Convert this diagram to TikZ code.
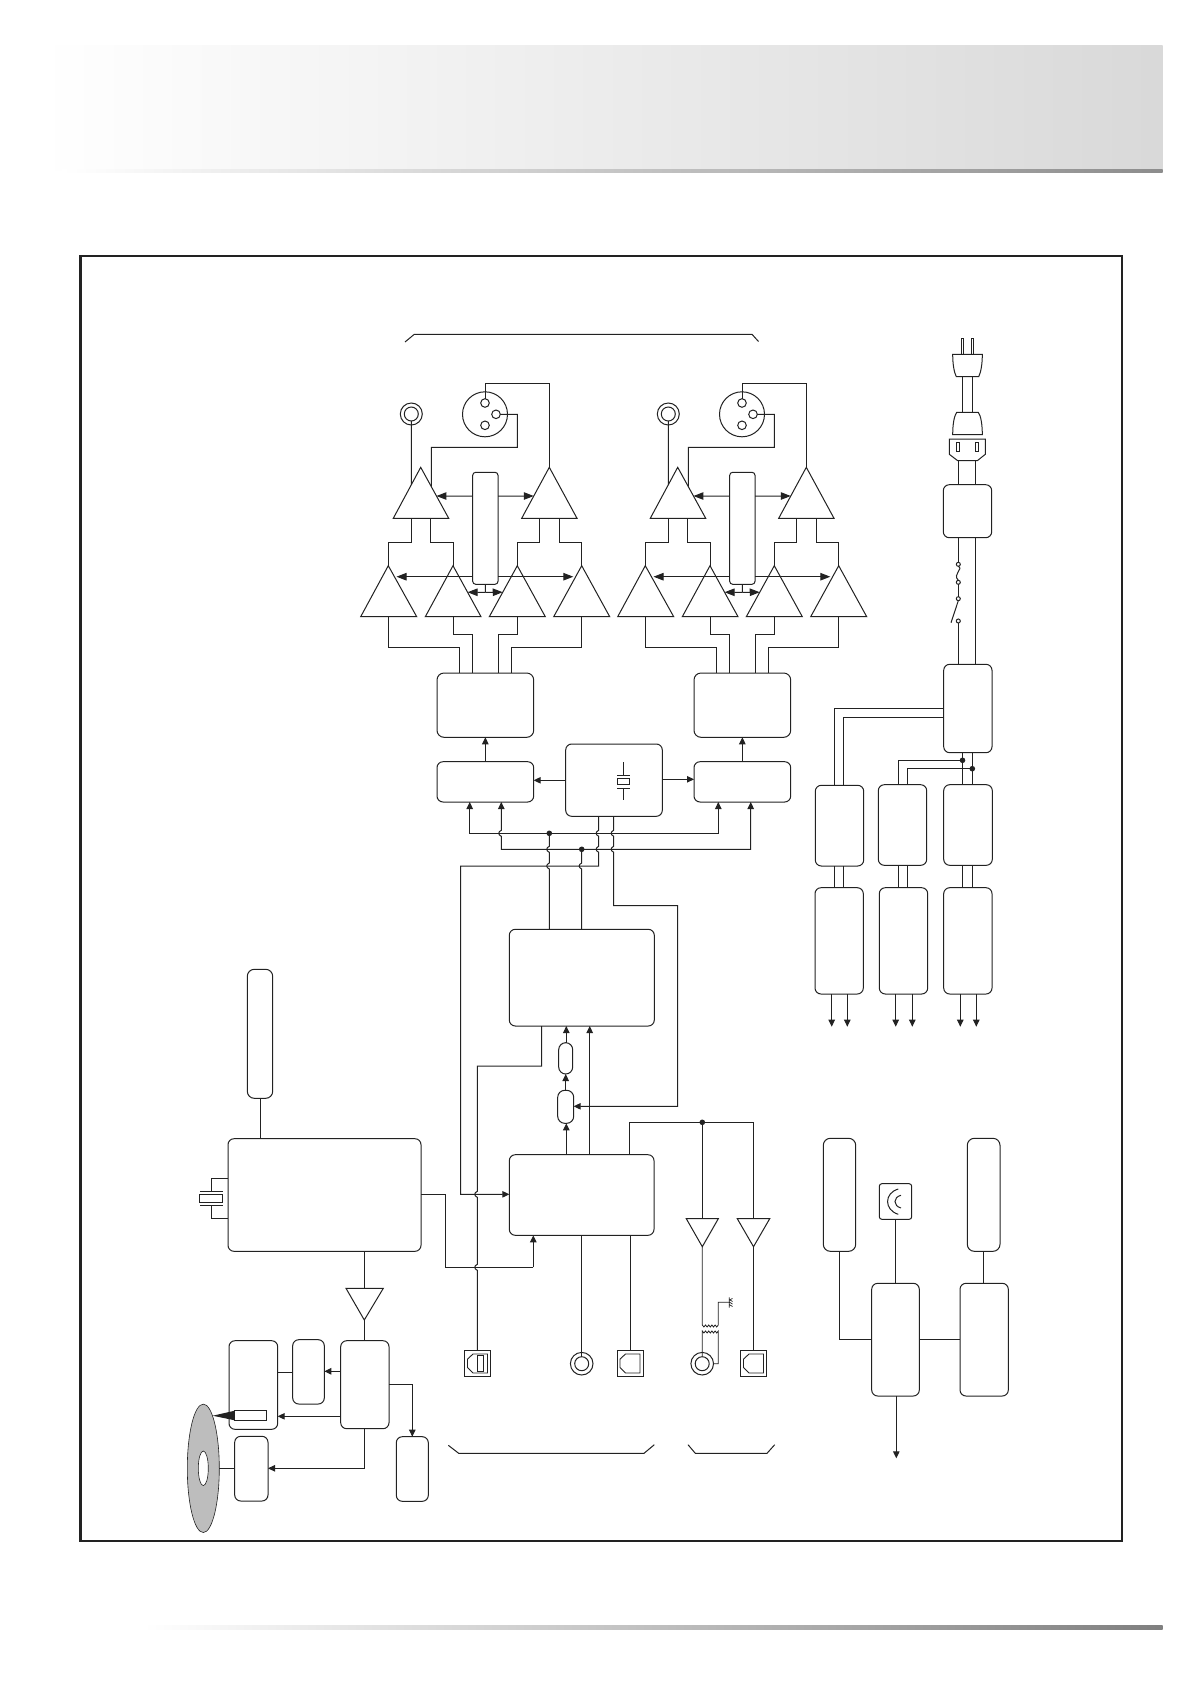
\documentclass[tikz,border=0pt]{standalone}
\usepackage{xcolor}
\usetikzlibrary{arrows.meta,calc,shapes.geometric}
\definecolor{ink}{HTML}{222222}
\definecolor{discgrey}{HTML}{BDBDBD}
\tikzset{
  wire/.style={draw=ink,line width=1pt,line join=miter},
  box/.style={draw=ink,line width=1pt,inner sep=0pt,outer sep=0pt},
  ring/.style={circle,draw=ink,line width=1pt,inner sep=0pt,outer sep=0pt},
  ellip/.style={ellipse,draw=ink,line width=.6pt,inner sep=0pt,outer sep=0pt},
  dotj/.style={circle,fill=ink,inner sep=0pt,outer sep=0pt,minimum size=5.6pt},
  sqconn/.style={draw=ink,line width=1pt,inner sep=0pt,outer sep=0pt,minimum width=26pt,minimum height=26pt},
  bigtip/.style={-{Triangle[length=10pt,width=7.5pt]}},
  >={Triangle[length=7pt,width=6.5pt]}
}
% rounded box: [radius]{name}{x0}{y0}{x1}{y1}
\newcommand\myrbox[6][5]{\node[box,rounded corners=#1pt,minimum width={(#5-#3)*1pt},minimum height={(#6-#4)*1pt}] (#2) at ({(#3+#5)/2},{(#4+#6)/2}) {};}
% triangle: {name}{apex x}{apex y}{left x}{right x}{base y}
\newcommand\mytri[6]{\coordinate (#1-a) at (#2,#3);\coordinate (#1-l) at (#4,#6);\coordinate (#1-r) at (#5,#6);\draw[wire] (#1-a)--(#1-l)--(#1-r)--cycle;}
\newcommand\hopdn[2]{ -- (#1,#2-3) .. controls (#1-3.4,#2-1.5) and (#1-3.4,#2+1.5) .. (#1,#2+3)}
\newcommand\wavy{.. controls +(0.6,2.6) and +(-0.6,2.6) .. ++(3.2,0) .. controls +(0.6,2.6) and +(-0.6,2.6) .. ++(3.2,0) .. controls +(0.6,2.6) and +(-0.6,2.6) .. ++(3.2,0) .. controls +(0.6,2.6) and +(-0.6,2.6) .. ++(3.2,0) .. controls +(0.6,2.6) and +(-0.6,2.6) .. ++(3.2,0)}
% connector square with keyed insert
\newcommand\conn[3]{\node[sqconn] (#1) at (#2,#3) {};
  \draw[wire,line width=.9pt] (#2-4.5,#3-9.3) -- (#2+10,#3-9.3) -- (#2+10,#3+9.7) -- (#2-4.5,#3+9.7) -- (#2-10,#3+4.2) -- (#2-10,#3-4.2) -- cycle;}
% one output channel
\newcommand\ampblock{%
  \node[ring,minimum size=22pt] (jo) at (411.3,414) {};
  \node[ring,minimum size=14pt] (ji) at (411.3,414) {};
  \node[ring,minimum size=45pt] (xlr) at (485,414.3) {};
  \node[ring,minimum size=8.6pt] (pa) at (485,403) {};
  \node[ring,minimum size=8.6pt] (pb) at (496,414.3) {};
  \node[ring,minimum size=8.6pt] (pc) at (485,425.3) {};
  \mytri{t1}{420.7}{467.3}{393.3}{448.7}{518.3}
  \mytri{t2}{549.3}{467.3}{521.7}{577}{518.3}
  \mytri{t3}{388.3}{565.7}{360.7}{416.7}{616.7}
  \mytri{t4}{453}{565.7}{425.3}{481}{616.7}
  \mytri{t5}{517.3}{565.7}{489.3}{545.3}{616.7}
  \mytri{t6}{581.7}{565.7}{553.7}{609.7}{616.7}
  \myrbox[3]{cb}{472.7}{472.3}{498}{584.3}
  \myrbox[7]{ibox}{437}{673}{533.7}{737.3}
  \myrbox[6]{ibot}{437}{761.7}{533.7}{802}
  \coordinate (t3in) at (396.5,576.7);
  \coordinate (t6in) at (573.3,576.7);
  \draw[wire] (ji.south) -- ($(t1-a)!.343!(t1-l)$);
  \draw[wire] (pa.north) -- (485,383.3) -- (549.3,383.3) -- (t2-a);
  \draw[wire] (pb.east) -- (517.3,414.3) -- (517.3,447.3) -- (431.3,447.3) -- ($(t1-a)!.379!(t1-r)$);
  \draw[wire,bigtip] (cb.west |- 0,496) -- ($(t1-a)!.563!(t1-r)$);
  \draw[wire,bigtip] (cb.east |- 0,496) -- ($(t2-a)!.563!(t2-l)$);
  \draw[wire,bigtip] (cb.west |- t3in) -- (t3in);
  \draw[wire,bigtip] (cb.east |- t6in) -- (t6in);
  \draw[wire] (cb.south) -- (485.3,592.3);
  \draw[wire,bigtip] (485.3,592.3) -- ($(t4-a)!.52!(t4-r)$);
  \draw[wire,bigtip] (485.3,592.3) -- ($(t5-a)!.52!(t5-l)$);
  \draw[wire] (411.3,0 |- t1-l) -- (411.3,542.3) -- (388.3,542.3) -- (t3-a);
  \draw[wire] (430.3,0 |- t1-l) -- (430.3,542.3) -- (453,542.3) -- (t4-a);
  \draw[wire] (539.7,0 |- t2-l) -- (539.7,542.3) -- (517.3,542.3) -- (t5-a);
  \draw[wire] (559.7,0 |- t2-l) -- (559.7,542.3) -- (581.7,542.3) -- (t6-a);
  \draw[wire] (388.3,0 |- t3-l) -- (388.3,647.3) -- (459.7,647.3) -- (459.7,0 |- ibox.north);
  \draw[wire] (453,0 |- t4-l) -- (453,634.3) -- (472.3,634.3) -- (472.3,0 |- ibox.north);
  \draw[wire] (517.3,0 |- t5-l) -- (517.3,634.3) -- (498.3,634.3) -- (498.3,0 |- ibox.north);
  \draw[wire] (581.7,0 |- t6-l) -- (581.7,647.3) -- (511.3,647.3) -- (511.3,0 |- ibox.north);
  \draw[wire,->] (ibot.north) -- (ibox.south);
}
\begin{document}
\begin{tikzpicture}[x=1pt,y=-1pt]
\useasboundingbox (0,0) rectangle (1191,1684);
\fill[white] (0,0) rectangle (1191,1684);
% header and footer bands
\shade[left color=white,right color=black!15] (40,45) rectangle (1162.6,170);
\shade[left color=white,right color=black!45] (62,169.3) rectangle (1162.6,172.7);
\shade[left color=white,middle color=black!33,right color=black!50] (144,1625) rectangle (1162.6,1629);
% frame
\draw[ink,line width=2.2pt] (80.5,256) rectangle (1122,1540.7);
% top bracket
\draw[wire] (405,342) -- (414.3,334.3) -- (752,334.3) -- (758.5,341.5);
% output channels
\begin{scope}[name prefix=l-]\ampblock\end{scope}
\begin{scope}[name prefix=r-,xshift=257pt]\ampblock\end{scope}
% clock
\myrbox[6]{clk}{565.7}{744}{662.3}{816.3}
\draw[wire] (623.3,762) -- (623.3,775) (617,775) -- (629.7,775) (617,788) -- (629.7,788) (623.3,788) -- (623.3,799.7);
\draw[wire] (617.3,778.7) rectangle (629.7,784.7);
\draw[wire,->] (clk.west |- 0,780.3) -- (l-ibot.east |- 0,780.3);
\draw[wire,->] (clk.east |- 0,779.3) -- (r-ibot.west |- 0,779.3);
% DSP and mux
\myrbox[6]{dsp}{509.3}{929.3}{654.3}{1026}
\myrbox[6]{mux}{509.3}{1154.7}{654}{1235.3}
\myrbox[7]{sba}{558.7}{1042.7}{572.7}{1074}
\myrbox[7]{sbb}{557.7}{1090.3}{573.7}{1123.3}
\node[dotj] (d1) at (549.3,833.3) {};
\node[dotj] (d2) at (581.7,849.3) {};
\node[dotj] (d3) at (702.3,1122.3) {};
% buses
\draw[wire,<->] (469.7,0 |- l-ibot.south) -- (469.7,833.3) -- (718.3,833.3) -- (718.3,0 |- r-ibot.south);
\draw[wire,<->] (501.3,0 |- l-ibot.south) \hopdn{501.3}{833.3} -- (501.3,849.3) -- (750.7,849.3) -- (750.7,0 |- r-ibot.south);
\draw[wire] (d1.center) \hopdn{549.3}{849.3} \hopdn{549.3}{866} -- (549.3,0 |- dsp.north);
\draw[wire] (d2.center) \hopdn{581.7}{866} -- (581.7,0 |- dsp.north);
\draw[wire,->] (598.7,0 |- clk.south) \hopdn{598.7}{833.3} \hopdn{598.7}{849.3} -- (598.7,866) -- (460.7,866) -- (460.7,1194.3) -- (mux.west |- 0,1194.3);
\draw[wire,->] (613.7,0 |- clk.south) \hopdn{613.7}{833.3} \hopdn{613.7}{849.3} -- (613.7,905.7) -- (677.7,905.7) -- (677.7,1106.3) -- (sbb.east |- 0,1106.3);
% mux region
\draw[wire,->] (566.3,0 |- mux.north) -- (566.3,0 |- sbb.south);
\draw[wire,->] (565.7,0 |- sbb.north) -- (565.7,0 |- sba.south);
\draw[wire,->] (566.3,0 |- sba.north) -- (566.3,0 |- dsp.south);
\draw[wire,->] (589.7,0 |- mux.north) -- (589.7,0 |- dsp.south);
% inputs and outputs
\conn{ca}{477.5}{1363.3}
\draw[wire] (477.3,1355.3) rectangle (483.7,1371.3);
\conn{cb}{630}{1363.3}
\conn{cc}{753.5}{1363.3}
\node[ring,minimum size=22.6pt] (jbo) at (581.7,1363.7) {};
\node[ring,minimum size=14pt] (jbi) at (581.7,1363.7) {};
\node[ring,minimum size=22.6pt] (jco) at (702.2,1363.7) {};
\node[ring,minimum size=14pt] (jci) at (702.2,1363.7) {};
\draw[wire] (541.7,0 |- dsp.south) -- (541.7,1066) -- (477.3,1066) \hopdn{477.3}{1194.3} \hopdn{477.3}{1267.3} -- (477.3,0 |- ca.north);
\draw[wire] (jbi.north |- mux.south) -- (jbi.north);
\draw[wire] (cb.north |- mux.south) -- (cb.north);
\mytri{t7}{702.3}{1246.7}{686.3}{718.3}{1218.7}
\mytri{t8}{753.5}{1246.7}{737.3}{769.7}{1218.7}
\draw[wire] (629.3,0 |- mux.north) -- (629.3,1122.3) -- (753.5,1122.3) -- (753.5,0 |- t8-l);
\draw[wire] (d3.center) -- (702.3,0 |- t7-l);
\draw[wire] (t8-a) -- (cc.north);
% transformer and ground
\draw[wire,line width=.8pt] (t7-a) -- (702.3,1325) \wavy -- (718.3,1302.3) -- (729.3,1302.3);
\draw[wire,line width=.8pt] (jci.north) -- (702.3,1331) \wavy -- (718.3,1363.7) -- (jco.east);
\draw[wire,line width=.7pt] (729.3,1297.3) -- (729.3,1307.7) (729.3,1299.5) -- (732.5,1301.5) (729.3,1302) -- (732.5,1304) (729.3,1304.5) -- (732.5,1306.5) (729.3,1300) -- (732.5,1298.5);
% main controller
\myrbox[6]{main}{228}{1138.7}{421}{1251.3}
\myrbox[7]{ant}{247.3}{969.3}{272.7}{1098.3}
\draw[wire] (260.3,0 |- ant.south) -- (260.3,0 |- main.north);
\draw[wire] (main.west |- 0,1178.3) -- (211.3,1178.3) -- (211.3,1191.3) (200,1191.3) -- (222.7,1191.3) (200,1205.3) -- (222.7,1205.3) (211.3,1205.3) -- (211.3,1218.3) -- (main.west |- 0,1218.3);
\draw[wire] (199.3,1194.3) rectangle (222.7,1202.3);
\draw[wire] (main.east |- 0,1194.3) -- (445.3,1194.3) -- (445.3,1267.3) -- (533.3,1267.3);
\draw[wire,->] (533.3,1267.3) -- (533.3,0 |- mux.south);
% servo group
\mytri{t9}{364.3}{1320}{346}{383.3}{1288.3}
\myrbox[6]{sa}{340.7}{1340.7}{389}{1428.7}
\myrbox[6]{sb}{292.7}{1339.7}{324.3}{1404}
\myrbox[6]{sc}{229}{1340.7}{277.7}{1429.3}
\myrbox[6]{sd}{234.7}{1436.3}{268}{1501}
\myrbox[6]{se}{396.3}{1436.7}{428.3}{1501.3}
\draw[wire] (364.3,0 |- main.south) -- (364.3,0 |- t9-l);
\draw[wire] (t9-a) -- (364.3,0 |- sa.north);
\draw[wire,->] (sa.west |- 0,1371.3) -- (sb.east |- 0,1371.3);
\draw[wire] (sc.east |- 0,1372.3) -- (sb.west |- 0,1372.3);
\draw[wire,->] (sa.west |- 0,1416.3) -- (sc.east |- 0,1416.3);
\draw[wire,->] (364.3,0 |- sa.south) -- (364.3,1468.3) -- (sd.east |- 0,1468.3);
\draw[wire,->] (sa.east |- 0,1384.3) -- (412.3,1384.3) -- (412.3,0 |- se.north);
% disc and laser
\node[ellip,fill=discgrey,minimum width=32pt,minimum height=128.4pt] (disc) at (203.3,1468.3) {};
\node[ellip,fill=white,minimum width=10pt,minimum height=34.6pt] (hole) at (203.3,1468.3) {};
\draw[wire] (disc.east |- 0,1468.3) -- (sd.west |- 0,1468.3);
\node[box,fill=white,minimum width=32.4pt,minimum height=10.4pt] (laser) at (250.5,1415.5) {};
\fill[ink] (212.7,1415.7) -- (234.7,1410.7) -- (234.7,1420.3) -- cycle;
% input brackets
\draw[wire] (448.3,1445.3) -- (458.7,1453.3) -- (644,1453.3) -- (654.3,1444.7);
\draw[wire] (688,1444.7) -- (695.3,1453.3) -- (767,1453.3) -- (774.7,1444.7);
% power plug and cord
\draw[wire] (961.3,354.3) -- (961.3,338.3) -- (963.7,338.3) -- (963.7,354.3) (971.3,354.3) -- (971.3,338.3) -- (973.7,338.3) -- (973.7,354.3);
\draw[wire] (952.7,354.3) -- (982.3,354.3) .. controls (982.3,364) and (981,372) .. (978.7,376.7) -- (956.3,376.7) .. controls (954,372) and (952.7,364) .. cycle;
\draw[wire] (962.7,376.7) -- (962.7,412.3) (972.7,376.7) -- (972.7,412.3);
\draw[wire] (952.7,434.7) -- (982.3,434.7) .. controls (982.3,425) and (981,416) .. (978.3,412.3) -- (956.7,412.3) .. controls (954,416) and (952.7,425) .. cycle;
\draw[wire] (949.3,439) -- (985.3,439) -- (985.3,454.3) -- (977.3,460.7) -- (957.7,460.7) -- (949.3,454.3) -- cycle;
\draw[wire] (956.7,442.3) rectangle (959.3,451.3) (975.3,442.3) rectangle (978.3,451.3);
\myrbox[6]{fa}{943.3}{484.7}{991.7}{537.7}
\myrbox[6]{ga}{943.7}{664.3}{992}{752.7}
\draw[wire] (958.3,460.7) -- (958.3,0 |- fa.north);
\draw[wire] (975.3,460.7) -- (975.3,0 |- fa.north);
\node[ring,minimum size=4pt] (fu) at (958.3,564.3) {};
\node[ring,minimum size=4pt] (fv) at (958.3,582.3) {};
\node[ring,minimum size=4pt] (sw) at (958.3,598.7) {};
\node[ring,minimum size=4pt] (sx) at (958.3,621) {};
\draw[wire] (958.3,0 |- fa.south) -- (fu.north);
\draw[wire] (fu.south) .. controls (964,569) and (952,574) .. (fv.north);
\draw[wire] (fv.south) -- (sw.north);
\draw[wire] (sw.south) -- (951,622.7);
\draw[wire] (sx.south) -- (958.3,0 |- ga.north);
\draw[wire] (975.3,0 |- fa.south) -- (975.3,0 |- ga.north);
% regulators
\myrbox[6]{ha}{815.3}{785.3}{863.7}{866}
\myrbox[6]{hb}{815}{887.7}{863.3}{994}
\myrbox[6]{ma}{878.3}{784.7}{926.7}{865.3}
\myrbox[6]{mb}{879.3}{887.7}{927.7}{994}
\myrbox[6]{ra}{943.7}{784.7}{992.3}{865.3}
\myrbox[6]{rb}{943.7}{887.7}{992}{994}
\draw[wire] (ga.west |- 0,708.3) -- (834.3,708.3) -- (834.3,0 |- ha.north);
\draw[wire] (ga.west |- 0,717.3) -- (843.5,717.3) -- (843.5,0 |- ha.north);
\node[dotj] (d4) at (962.5,760.3) {};
\node[dotj] (d5) at (972.3,768.7) {};
\draw[wire] (962.5,0 |- ga.south) -- (962.5,0 |- ra.north);
\draw[wire] (972.3,0 |- ga.south) -- (972.3,0 |- ra.north);
\draw[wire] (d4.center) -- (898.3,760.3) -- (898.3,0 |- ma.north);
\draw[wire] (d5.center) -- (907.3,768.7) -- (907.3,0 |- ma.north);
\foreach \a/\b/\x in {ha/hb/834.3,ha/hb/843.5,ma/mb/898.3,ma/mb/907.3,ra/rb/962.5,ra/rb/972.3}{
  \draw[wire] (\x,0 |- \a.south) -- (\x,0 |- \b.north);}
\coordinate (pwrout) at (0,1026.7);
\foreach \b/\x in {hb/831.7,hb/847.3,mb/895.7,mb/912.3,rb/960.3,rb/976.3}{
  \draw[wire,->] (\x,0 |- \b.south) -- (\x,0 |- pwrout);}
% front panel group
\myrbox[7]{pa}{823.3}{1138.3}{855.7}{1251.3}
\myrbox[7]{qa}{967.3}{1138.3}{1000}{1251.3}
\myrbox[2.5]{sens}{879.3}{1183.7}{911.7}{1219.3}
\myrbox[6]{ua}{871.7}{1283.3}{919.3}{1396}
\myrbox[6]{va}{960}{1283.3}{1008.3}{1396}
\draw[wire] (898.3,1189) .. controls (884,1193) and (884,1210) .. (898.3,1214.3);
\draw[wire] (901,1195.3) .. controls (893,1197) and (893,1206) .. (901,1208);
\draw[wire] (839.7,0 |- pa.south) -- (839.7,1339.3) -- (ua.west |- 0,1339.3);
\draw[wire] (895.7,0 |- sens.south) -- (895.7,0 |- ua.north);
\draw[wire] (ua.east |- 0,1339.3) -- (va.west |- 0,1339.3);
\draw[wire] (983.3,0 |- qa.south) -- (983.3,0 |- va.north);
\coordinate (uout) at (896.3,1458.3);
\draw[wire,->] (896.3,0 |- ua.south) -- (uout);
\end{tikzpicture}
\end{document}
